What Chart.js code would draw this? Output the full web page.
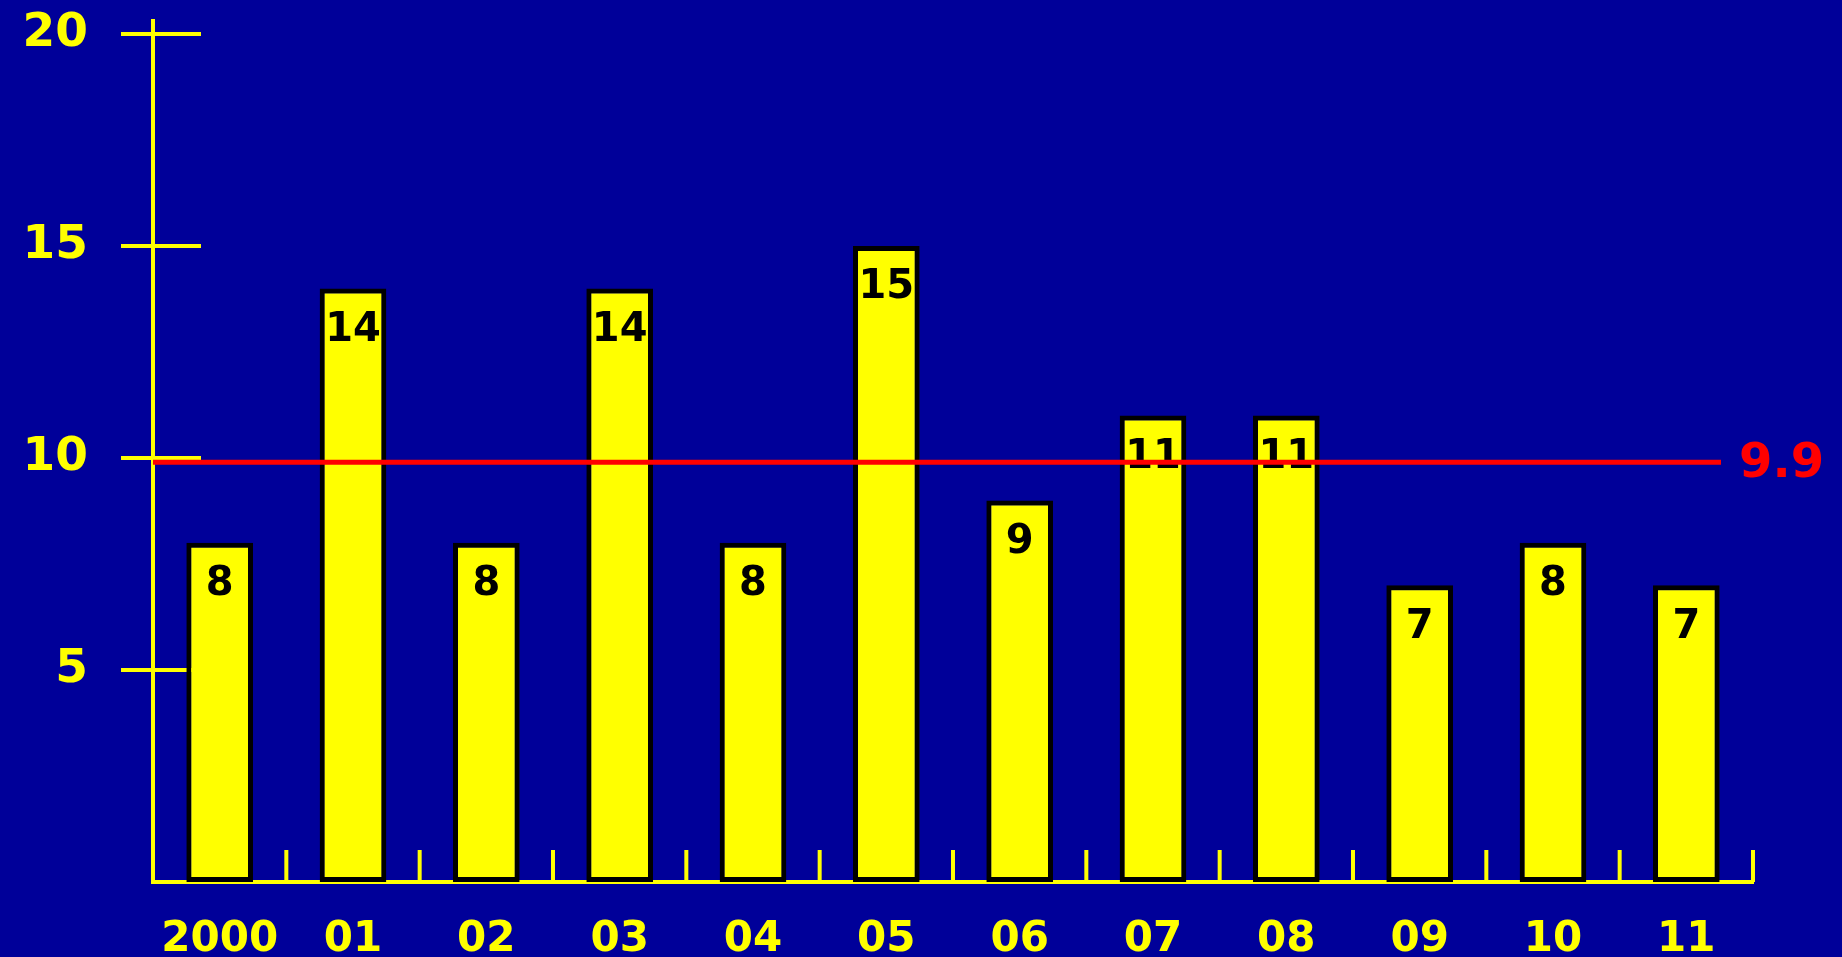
<!DOCTYPE html>
<html>
<head>
<meta charset="utf-8">
<title>Chart</title>
<script src="https://cdn.jsdelivr.net/npm/chart.js@4.4.1/dist/chart.umd.min.js"></script>
<style>
  html, body { margin:0; padding:0; background:#000099; }
  #wrap { width:1842px; height:957px; position:relative; }
</style>
</head>
<body>
<div id="wrap"><canvas id="chart"></canvas></div>
<script>
// yearly counts, 2000-2011, with the average across the period
const years = ['2000','01','02','03','04','05','06','07','08','09','10','11'];
const counts = [8, 14, 8, 14, 8, 15, 9, 11, 11, 7, 8, 7];
const yTicks = [5, 10, 15, 20];
const average = 9.9;

const YELLOW = '#ffff00';
const RED = '#ff0000';
const FONT = "'DejaVu Sans', Verdana, sans-serif";

// tick marks that cross the y axis / point up from the x axis,
// plus the value labels and the average line on top of the bars
const decorations = {
  id: 'decorations',
  beforeDatasetsDraw(chart){
    const {ctx, chartArea:a, scales:{x, y}} = chart;
    ctx.save();
    ctx.strokeStyle = YELLOW;
    ctx.lineWidth = 4;
    ctx.beginPath();
    ctx.moveTo(a.left, a.top - 15);
    ctx.lineTo(a.left, a.bottom);
    yTicks.forEach(v => {
      const py = y.getPixelForValue(v);
      ctx.moveTo(a.left - 32, py);
      ctx.lineTo(a.left + 48, py);
    });
    for(let i = 0; i < years.length; i++){
      const px = i < years.length - 1
        ? (x.getPixelForValue(i) + x.getPixelForValue(i + 1)) / 2
        : a.right;
      ctx.moveTo(px, a.bottom);
      ctx.lineTo(px, a.bottom - 32);
    }
    ctx.stroke();
    ctx.restore();
  },
  afterDatasetsDraw(chart){
    const {ctx, chartArea:a, scales:{y}} = chart;
    const meta = chart.getDatasetMeta(0);
    ctx.save();
    ctx.fillStyle = '#000';
    ctx.font = 'bold 40px ' + FONT;
    ctx.textAlign = 'center';
    ctx.textBaseline = 'middle';
    meta.data.forEach((bar, i) => {
      ctx.fillText(String(counts[i]), bar.x, bar.y + 42);
    });

    const py = y.getPixelForValue(average);
    const end = a.right - 32;
    ctx.strokeStyle = RED;
    ctx.lineWidth = 5;
    ctx.beginPath();
    ctx.moveTo(a.left, py);
    ctx.lineTo(end, py);
    ctx.stroke();
    ctx.fillStyle = RED;
    ctx.font = 'bold 48px ' + FONT;
    ctx.textAlign = 'left';
    ctx.fillText(average.toFixed(1), end + 18, py + 2);
    ctx.restore();
  }
};

// fixed axis sizes so the plot area lands where it should
function fixSize(prop, size){
  return scale => {
    scale[prop] = size;
    scale.paddingTop = scale.paddingBottom = 0;
    scale.paddingLeft = scale.paddingRight = 0;
  };
}

new Chart(document.getElementById('chart'), {
  type: 'bar',
  data: {
    labels: years,
    datasets: [{
      data: counts,
      backgroundColor: YELLOW,
      borderColor: '#000',
      borderWidth: 5,
      borderSkipped: false,
      barPercentage: 0.5,
      categoryPercentage: 1
    }]
  },
  options: {
    responsive: true,
    maintainAspectRatio: false,
    animation: false,
    layout: { autoPadding: false, padding: { top: 34, right: 89, left: 0, bottom: 0 } },
    plugins: { legend: { display: false }, tooltip: { enabled: false } },
    scales: {
      x: {
        grid: { display: false, drawTicks: false },
        border: { display: true, color: YELLOW, width: 4 },
        ticks: { color: YELLOW, font: { family: FONT, size: 42, weight: 'bold' }, padding: 33, maxRotation: 0 },
        afterFit: fixSize('height', 75)
      },
      y: {
        min: 0, max: 20,
        grid: { display: false, drawTicks: false },
        border: { display: false },
        afterBuildTicks(scale){ scale.ticks = yTicks.map(v => ({ value: v })); },
        ticks: { color: YELLOW, font: { family: FONT, size: 47, weight: 'bold' }, padding: 65 },
        afterFit: fixSize('width', 153)
      }
    }
  },
  plugins: [decorations]
});
</script>
</body>
</html>
